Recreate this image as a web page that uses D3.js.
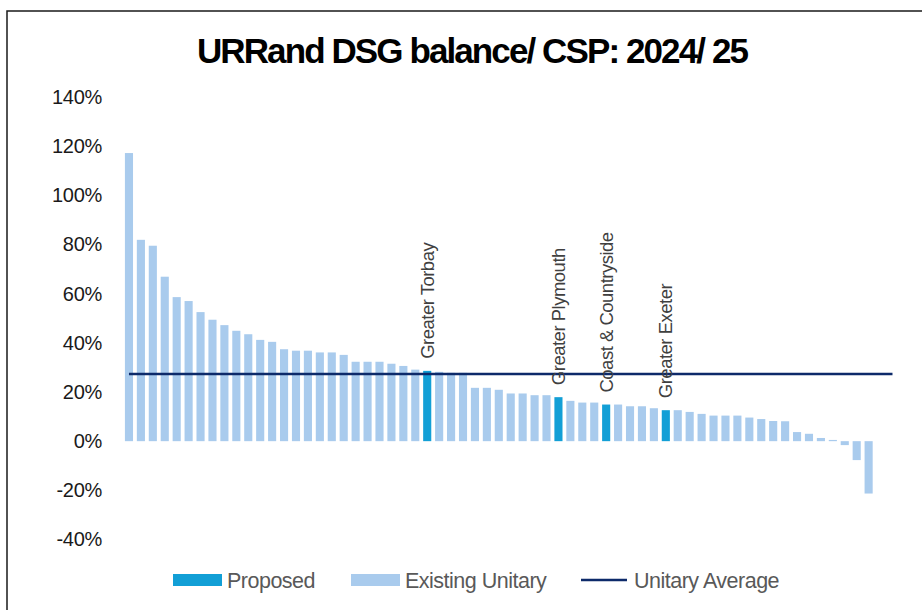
<!DOCTYPE html>
<html>
<head>
<meta charset="utf-8">
<script src="https://cdn.jsdelivr.net/npm/d3@7"></script>
<style>
  html, body { margin: 0; padding: 0; background: #fff; }
  svg { display: block; }
</style>
</head>
<body>
<svg id="chart" width="922" height="610"></svg>
<script>
// ---- data ----
const balanceValues = [
  1.172, 0.819, 0.795, 0.669, 0.586, 0.570, 0.525, 0.494, 0.472, 0.449,
  0.435, 0.412, 0.404, 0.374, 0.368, 0.368, 0.361, 0.361, 0.351, 0.323,
  0.323, 0.323, 0.315, 0.306, 0.291, 0.286, 0.282, 0.278, 0.278, 0.217,
  0.217, 0.209, 0.194, 0.194, 0.187, 0.187, 0.179, 0.164, 0.157, 0.157,
  0.149, 0.149, 0.142, 0.142, 0.134, 0.126, 0.126, 0.119, 0.111, 0.104,
  0.104, 0.104, 0.096, 0.090, 0.082, 0.081, 0.037, 0.030, 0.013, 0.005,
  -0.016, -0.077, -0.213
];
const categoryCount = 65; // two trailing empty categories
const proposedNames = ["Greater Torbay", "Greater Plymouth", "Coast & Countryside", "Greater Exeter"];
const proposedIndex = [25, 36, 40, 45];
const unitaryAverage = 0.273;
const yTicks = [-0.4, -0.2, 0, 0.2, 0.4, 0.6, 0.8, 1.0, 1.2, 1.4];
const titleText = "URRand DSG balance/ CSP: 2024/ 25";
const legendItems = ["Proposed", "Existing Unitary", "Unitary Average"];

// ---- styles ----
const colProposed = "#129fd6";
const colExisting = "#a9cbed";
const colLine = "#0d2a6a";
const textGray = "#595959";
const font = "Liberation Sans, Arial, sans-serif";

const svg = d3.select("#chart");

// border
svg.append("rect")
  .attr("x", 7).attr("y", 11)
  .attr("width", 940).attr("height", 640)
  .attr("fill", "none").attr("stroke", "#1a1a1a").attr("stroke-width", 1.5);

// title
svg.append("text")
  .attr("x", 472).attr("y", 63)
  .attr("text-anchor", "middle")
  .attr("font-family", font)
  .attr("font-weight", "bold")
  .attr("font-size", 35)
  .attr("letter-spacing", -1.9)
  .attr("fill", "#000")
  .text(titleText);

// scales
const step = 11.93;
const xs = d3.scaleBand()
  .domain(d3.range(categoryCount))
  .range([123, 123 + step * categoryCount])
  .paddingInner(0.32)
  .paddingOuter(0.16);

const y = d3.scaleLinear().domain([-0.4, 1.4]).range([539.5, 97]);

// y axis
const pct = d3.format(".0%");
const yAxis = d3.axisLeft(y)
  .tickValues(yTicks)
  .tickFormat(d => pct(d).replace("\u2212", "-"))
  .tickSize(0)
  .tickPadding(0);
const gy = svg.append("g").attr("transform", "translate(102,0)").call(yAxis);
gy.select(".domain").remove();
gy.selectAll("text")
  .attr("font-family", font)
  .attr("font-size", 20)
  .attr("fill", "#1a1a1a")
  .attr("letter-spacing", -0.3);

// bars
const bw = xs.bandwidth();
svg.append("g").selectAll("rect")
  .data(balanceValues)
  .join("rect")
  .attr("x", (d, i) => xs(i))
  .attr("width", bw)
  .attr("y", d => y(Math.max(0, d)))
  .attr("height", d => Math.abs(y(d) - y(0)))
  .attr("fill", (d, i) => proposedIndex.includes(i) ? colProposed : colExisting);

// average line
svg.append("line")
  .attr("x1", xs(0) + bw / 2)
  .attr("x2", xs(categoryCount - 1) + bw / 2)
  .attr("y1", y(unitaryAverage))
  .attr("y2", y(unitaryAverage))
  .attr("stroke", colLine)
  .attr("stroke-width", 2.5);

// rotated labels over proposed bars
proposedIndex.forEach((idx, k) => {
  const cx = xs(idx) + bw / 2;
  const top = y(balanceValues[idx]) - 12;
  svg.append("text")
    .attr("transform", `translate(${cx},${top}) rotate(-90)`)
    .attr("dominant-baseline", "central")
    .attr("text-anchor", "start")
    .attr("font-family", font)
    .attr("font-size", 18.5)
    .attr("letter-spacing", -0.5)
    .attr("fill", "#404040")
    .text(proposedNames[k]);
});

// legend
const legend = svg.append("g").attr("font-family", font)
  .attr("font-size", 21.5).attr("letter-spacing", -0.5).attr("fill", textGray);
const legX = [173, 351, 581];
legend.append("rect").attr("x", legX[0]).attr("y", 574).attr("width", 49).attr("height", 12).attr("fill", colProposed);
legend.append("text").attr("x", legX[0] + 54).attr("y", 587.5).text(legendItems[0]);
legend.append("rect").attr("x", legX[1]).attr("y", 574).attr("width", 49).attr("height", 12).attr("fill", colExisting);
legend.append("text").attr("x", legX[1] + 54).attr("y", 587.5).text(legendItems[1]);
legend.append("line").attr("x1", legX[2]).attr("x2", legX[2] + 46).attr("y1", 580).attr("y2", 580)
  .attr("stroke", colLine).attr("stroke-width", 2.5);
legend.append("text").attr("x", legX[2] + 53).attr("y", 587.5).text(legendItems[2]);
</script>
</body>
</html>
